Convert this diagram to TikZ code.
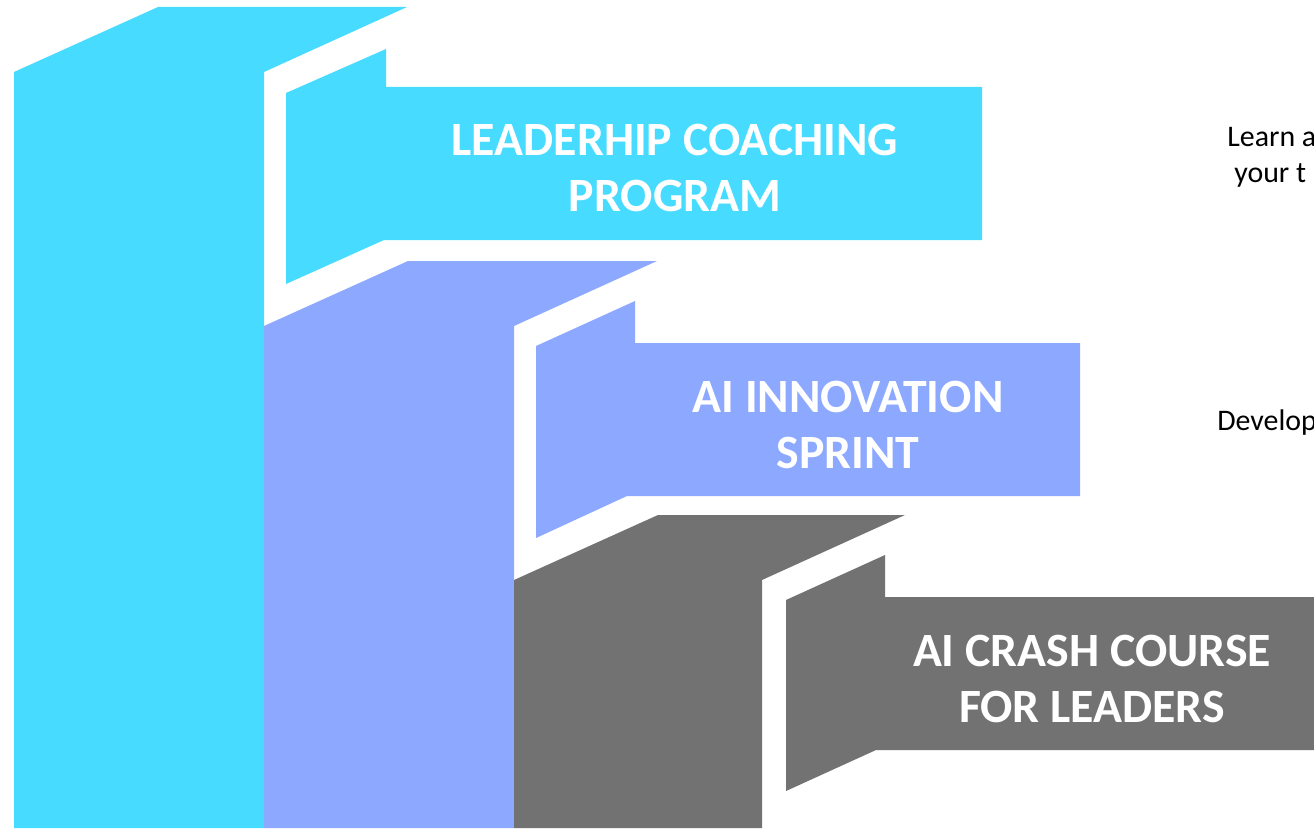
\documentclass[tikz,border=0pt]{standalone}
\usepackage{fontspec}
\setmainfont{Carlito}
\usepackage{tikz}

\definecolor{stepcyan}{RGB}{71,220,255}
\definecolor{steppurple}{RGB}{140,168,255}
\definecolor{stepgray}{RGB}{114,114,114}

\begin{document}
\begin{tikzpicture}[x=0.02cm,y=-0.02cm]
    \pgfmathsetmacro{\picwidth}{1314}
    \pgfmathsetmacro{\picheight}{828}
    \providecommand{\titlefontsize}{\fontsize{27.2pt}{32.3pt}\selectfont}
    \providecommand{\notefontsize}{\fontsize{17pt}{21.5pt}\selectfont}
    \useasboundingbox (0,0) rectangle (\picwidth,\picheight);
    \clip (0,0) rectangle (\picwidth,\picheight);
    % columns
    \fill[stepcyan] (14,828) -- (14,72) -- (158,7) -- (407,7) -- (264,72) -- (264,828) -- cycle;
    \fill[steppurple] (264,828) -- (264,326) -- (408,261) -- (657,261) -- (514,326) -- (514,828) -- cycle;
    \fill[stepgray] (514,828) -- (514,580) -- (658,515) -- (905,515) -- (762,580) -- (762,828) -- cycle;
    % flags
    \fill[stepcyan] (286,93) -- (386,49) -- (386,87) -- (982,87) -- (982,240) -- (384,240) -- (286,284) -- cycle;
    \fill[steppurple] (536,346) -- (635,301) -- (635,343) -- (1080,343) -- (1080,496) -- (627,496) -- (536,538) -- cycle;
    \fill[stepgray] (786,600) -- (885,555) -- (885,597) -- (1340,597) -- (1340,750) -- (876,750) -- (786,791) -- cycle;
    \node[text=white,font=\bfseries\titlefontsize,align=center](coaching) at (675,168)
    {LEADERHIP COACHING\\PROGRAM};
    \node[text=white,font=\bfseries\titlefontsize,align=center](sprint) at (848,425)
    {AI INNOVATION\\SPRINT};
    \node[text=white,font=\bfseries\titlefontsize,align=center](crash) at (1092,679)
    {AI CRASH COURSE\\FOR LEADERS};
    \node[anchor=west,inner sep=0,font=\notefontsize](learn) at (1227,137) {Learn a};
    \node[anchor=west,inner sep=0,font=\notefontsize](team) at (1234,175) {your t};
    \node[anchor=west,inner sep=0,font=\notefontsize](develop) at (1217,423) {Develop};
\end{tikzpicture}
\end{document}
